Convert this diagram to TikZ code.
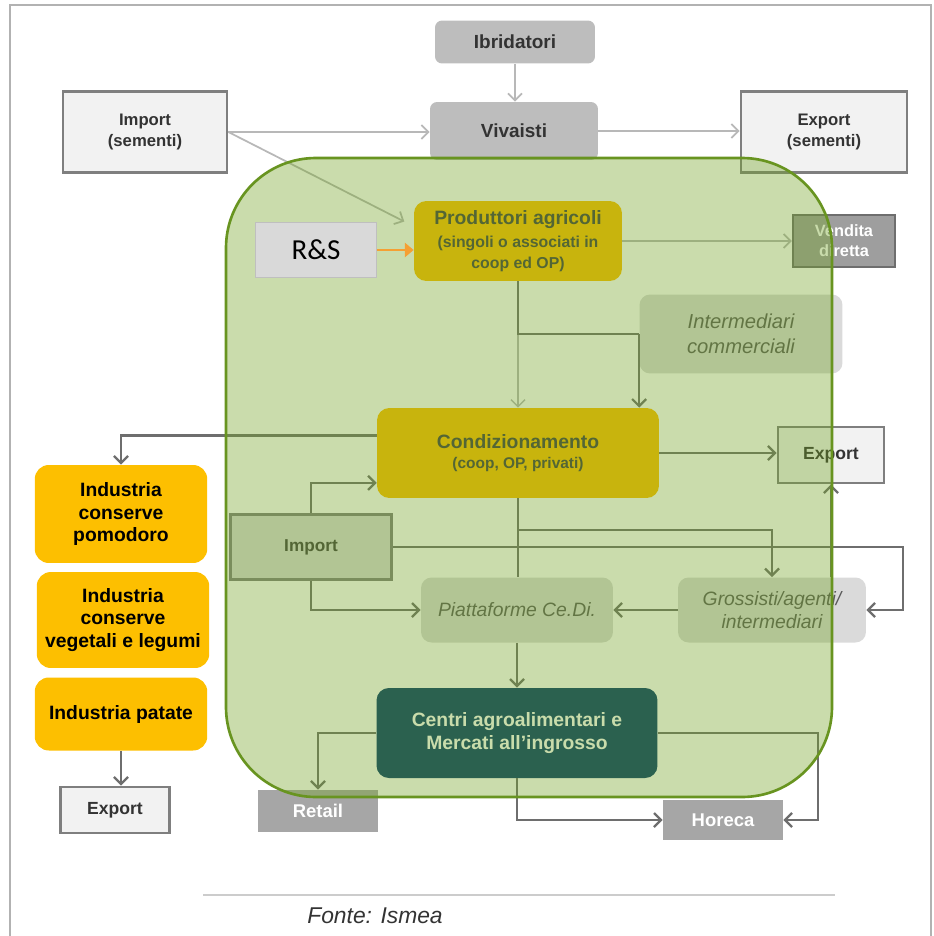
\documentclass[tikz,border=0pt]{standalone}
\usepackage{fontspec}
\setmainfont{Liberation Sans}
\newfontfamily\rsfont{Carlito}
\usetikzlibrary{arrows.meta}

\definecolor{seedgray}{HTML}{BDBDBD}
\definecolor{palegray}{HTML}{F2F2F2}
\definecolor{framegray}{HTML}{7F7F7F}
\definecolor{linkgray}{HTML}{6E6E6E}
\definecolor{softgray}{HTML}{B8B8B8}
\definecolor{boxgray}{HTML}{DADADA}
\definecolor{ambra}{HTML}{FDBF00}
\definecolor{deepblue}{HTML}{00386A}
\definecolor{areagreen}{HTML}{73A424}
\definecolor{rsorange}{HTML}{F5A033}

\begin{document}
\begin{tikzpicture}[x=0.02cm, y=-0.02cm,
    >={Straight Barb[length=4pt,width=8pt]},
    every node/.style={align=center, inner sep=2pt},
    seedbox/.style={rounded corners=4pt, fill=seedgray, text=black!80, font=\bfseries\fontsize{10.8}{13}\selectfont},
    tradebox/.style={draw=framegray, line width=1.6pt, fill=palegray, text=black!80, font=\bfseries\fontsize{9.5}{11.5}\selectfont},
    mainbox/.style={rounded corners=7pt, fill=ambra, text=black!75},
    industry/.style={rounded corners=8pt, fill=ambra, text=black, minimum width=3.45cm, font=\bfseries\fontsize{11}{12.6}\selectfont},
    midbox/.style={rounded corners=6pt, fill=boxgray, text=black!65, font=\itshape\fontsize{11}{13}\selectfont},
    outlet/.style={fill=black!35, text=white, font=\bfseries\fontsize{10.5}{12.5}\selectfont},
    softlink/.style={draw=softgray, line width=1pt, ->},
    link/.style={draw=linkgray, line width=1.3pt},
    linkarr/.style={link, ->}
  ]
  \useasboundingbox (0,0) rectangle (933,936);
  % page frame
  \draw[black!30, line width=0.8pt] (10,936) -- (10,5) -- (931,5) -- (931,936);

  % seeds
  \node[seedbox, minimum width=3.2cm, minimum height=0.86cm] (ibrid) at (515,42) {Ibridatori};
  \node[seedbox, minimum width=3.36cm, minimum height=1.16cm] (vivai) at (514,131) {Vivaisti};
  \node[tradebox, minimum width=3.28cm, minimum height=1.62cm] (impsem) at (145,132) {Import\\(sementi)};
  \node[tradebox, minimum width=3.32cm, minimum height=1.62cm] (expsem) at (824,132) {Export\\(sementi)};

  % production
  \node[mainbox, minimum width=4.16cm, minimum height=1.6cm, font=\bfseries\fontsize{9}{12}\selectfont] (prod) at (518,241)
    {{\fontsize{11}{13}\selectfont Produttori agricoli}\\[1pt](singoli o associati in\\coop ed OP)};
  \node[outlet, draw=linkgray, line width=1.2pt, fill=black!38, minimum width=2.04cm, minimum height=1.04cm, font=\bfseries\fontsize{9.3}{11.5}\selectfont] (vendita) at (844,241) {Vendita\\diretta};
  \node[midbox, minimum width=4.06cm, minimum height=1.58cm, font=\itshape\fontsize{11.5}{14}\selectfont] (interm) at (741,334) {Intermediari\\commerciali};
  \node[mainbox, minimum width=5.64cm, minimum height=1.8cm, font=\bfseries\fontsize{8.8}{11}\selectfont] (cond) at (518,453)
    {{\fontsize{11}{13}\selectfont Condizionamento}\\(coop, OP, privati)};
  \node[tradebox, minimum width=2.12cm, minimum height=1.12cm, font=\bfseries\fontsize{10}{12}\selectfont] (expmid) at (831,455) {Export};
  \node[draw=framegray, line width=1.6pt, fill=boxgray, text=black!75, font=\bfseries\fontsize{9.8}{12}\selectfont,
    minimum width=3.22cm, minimum height=1.3cm] (impmid) at (311,547) {Import};
  \node[midbox, minimum width=3.84cm, minimum height=1.3cm] (piatt) at (517,610) {Piattaforme Ce.Di.};
  \node[midbox, minimum width=3.76cm, minimum height=1.3cm] (gross) at (772,610) {Grossisti/agenti/\\intermediari};
  \node[mainbox, fill=deepblue, text=white, font=\bfseries\fontsize{11}{13.5}\selectfont,
    minimum width=5.62cm, minimum height=1.8cm] (centri) at (517,733) {Centri agroalimentari e\\Mercati all'ingrosso};
  \node[outlet, minimum width=2.4cm, minimum height=0.84cm] (retail) at (318,811) {Retail};
  \node[outlet, minimum width=2.4cm, minimum height=0.8cm] (horeca) at (723,820) {Horeca};

  % industry
  \node[industry, minimum height=1.96cm] (indpom) at (121,514) {Industria\\conserve\\pomodoro};
  \node[industry, minimum height=1.92cm] (indveg) at (123,620) {Industria\\conserve\\vegetali e legumi};
  \node[industry, minimum height=1.46cm] (indpat) at (121,714) {Industria patate};
  \node[tradebox, minimum width=2.18cm, minimum height=0.92cm, font=\bfseries\fontsize{10}{12}\selectfont] (expbl) at (115,810) {Export};

  % flows
  \draw[softlink] (ibrid.south) -- (ibrid.south |- vivai.north);
  \draw[softlink] (impsem.east) -- (impsem.east -| vivai.west);
  \draw[softlink] (vivai.east) -- (vivai.east -| expsem.west);
  \draw[softlink, shorten >=6pt] (impsem.east) -- (prod.172);
  \draw[softlink] (prod.east) -- (vendita.west);
  \draw[softlink, line width=0.8pt] (prod.south) -- (cond.north);
  \draw[link] (prod.south) |- (interm.west);
  \draw[linkarr] (interm.west) -- (interm.west |- cond.north);
  \draw[linkarr] ([yshift=10pt]cond.west) -| (indpom.north);
  \draw[linkarr] (cond.east) -- (cond.east -| expmid.west);
  \draw[linkarr] (impmid.north) |- ([yshift=-17pt]cond.west);
  \draw[linkarr] (impmid.south) |- (piatt.west);
  \coordinate (eastbus) at (903,548);
  \draw[linkarr] (impmid.east) -- (impmid.east -| eastbus) |- (gross.east);
  \draw[link] (cond.south) -- (cond.south |- piatt.north);
  \coordinate (forkpt) at (518,530);
  \draw[linkarr] (cond.south |- forkpt) -| (gross.north);
  \draw[linkarr] (gross.north -| expmid.south) -- (expmid.south);
  \draw[linkarr] (gross.west) -- (piatt.east);
  \draw[linkarr] (piatt.south) -- (centri.north);
  \draw[linkarr] (centri.west) -| (retail.north);
  \coordinate (southbus) at (818,733);
  \draw[linkarr] (centri.east) -- (southbus) |- (horeca.east);
  \draw[linkarr] (centri.south) |- (horeca.west);
  \draw[linkarr] (indpat.south) -- (indpat.south |- expbl.north);

  % green area
  \fill[areagreen, fill opacity=0.38, rounded corners=1.8cm] (226,158) rectangle (832,797);
  \draw[areagreen!90!black, line width=1.5pt, rounded corners=1.8cm] (226,158) rectangle (832,797);

  \node[draw=black!25, fill=black!15, minimum width=2.42cm, minimum height=1.1cm,
    font=\rsfont\fontsize{16.5}{19}\selectfont] (rs) at (316,250) {R\&S};
  \draw[rsorange, line width=1.5pt, -{Triangle[length=5pt,width=8pt]}] (rs.east) -- (rs.east -| prod.west);

  % source
  \draw[black!20, line width=1pt] (203,895) -- (835,895);
  \node[font=\itshape\fontsize{13}{15}\selectfont, text=black!80] (fonte) at (375,916) {Fonte: Ismea};
\end{tikzpicture}
\end{document}
